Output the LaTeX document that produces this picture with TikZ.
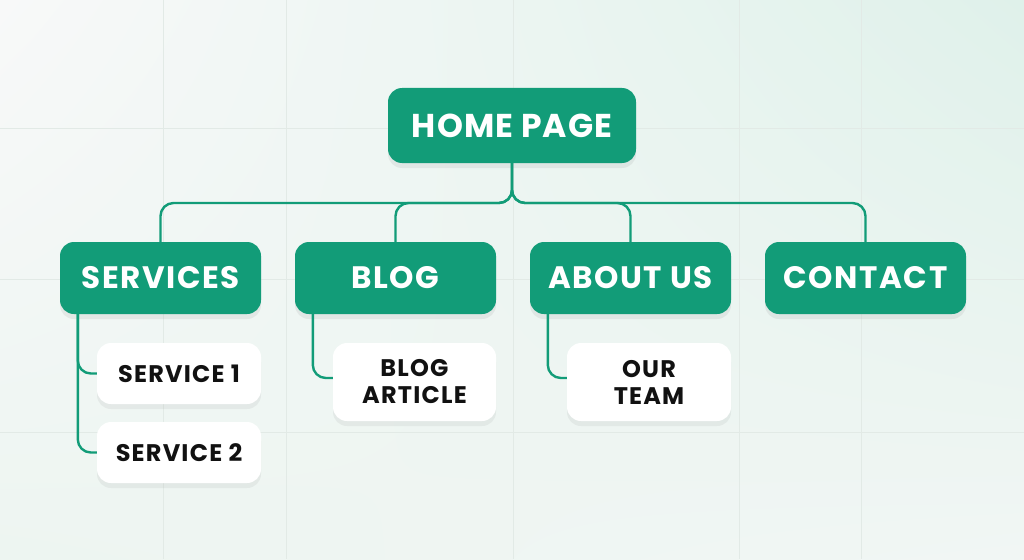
\documentclass[tikz,border=0pt]{standalone}
\usepackage{fontspec}
\setmainfont{Poppins}
\newfontfamily\widefont{Poppins}[LetterSpace=5]
\newfontfamily\homefont{Poppins}[LetterSpace=3]
\usetikzlibrary{shadows,calc,shadings}
\definecolor{brand}{HTML}{129C78}
\definecolor{gridc}{HTML}{E2EAE6}
\definecolor{bgA}{HTML}{F8F9F9}
\definecolor{bgB}{HTML}{DFF1EA}
\definecolor{bgC}{HTML}{EDF5F1}
\definecolor{bgD}{HTML}{F1F6F4}
\definecolor{inkc}{HTML}{111111}
\tikzset{
  mainbox/.style={rectangle, rounded corners=14pt, fill=brand, text=white,
    font=\widefont\bfseries\fontsize{31}{33}\selectfont, align=center, inner sep=0pt,
    drop shadow={opacity=0.12, shadow xshift=0pt, shadow yshift=-5pt}},
  subbox/.style={rectangle, rounded corners=14pt, fill=white, text=inkc,
    font=\widefont\bfseries\fontsize{24}{27}\selectfont, align=center, inner sep=0pt,
    drop shadow={opacity=0.10, shadow xshift=0pt, shadow yshift=-5pt}},
  conn/.style={draw=brand, line width=2.4pt, rounded corners=13pt},
  gridline/.style={draw=gridc, line width=1pt}
}
\begin{document}
\begin{tikzpicture}[x=1pt,y=-1pt]
\useasboundingbox (0,0) rectangle (1024,559);
\shade[upper left=bgA, upper right=bgB, lower left=bgC, lower right=bgD] (0,0) rectangle (1024,559);
% grid
\foreach \gx in {163,286,513,739,861} \draw[gridline] (\gx,0) -- (\gx,559);
\foreach \gy in {128,279,432} \draw[gridline] (0,\gy) -- (1024,\gy);
% nodes
\node[mainbox, minimum width=248pt, minimum height=75pt, font=\homefont\bfseries\fontsize{33}{35}\selectfont] (home) at (512,125.5) {HOME PAGE};
\node[mainbox, minimum width=201pt, minimum height=72pt] (services) at (160.5,278) {SERVICES};
\node[mainbox, minimum width=201pt, minimum height=72pt] (blog) at (395.5,278) {BLOG};
\node[mainbox, minimum width=201pt, minimum height=72pt] (about) at (630.5,278) {ABOUT US};
\node[mainbox, minimum width=201pt, minimum height=72pt] (contact) at (865.5,278) {CONTACT};
\node[subbox, minimum width=164pt, minimum height=61pt] (s1) at (179,373.5) {SERVICE 1};
\node[subbox, minimum width=164pt, minimum height=61pt] (s2) at (179,452.5) {SERVICE 2};
\node[subbox, minimum width=163pt, minimum height=78pt] (article) at (414.5,382) {BLOG\\ARTICLE};
\node[subbox, minimum width=164pt, minimum height=78pt] (team) at (649,382) {OUR\\TEAM};
% connectors
\coordinate (bus) at (512,203);
\foreach \c in {services,blog,about,contact}
  \draw[conn] (home.south) |- (bus -| \c.north) -- (\c.north);
\coordinate (sv) at ($(services.south west)+(18,0)$);
\coordinate (bv) at ($(blog.south west)+(18,0)$);
\coordinate (av) at ($(about.south west)+(18,0)$);
\draw[conn] (sv) |- (s1.west);
\draw[conn] (sv) |- (s2.west);
\draw[conn] (bv) |- ($(article.west)+(0,-4)$);
\draw[conn] (av) |- ($(team.west)+(0,-4)$);
\end{tikzpicture}
\end{document}
